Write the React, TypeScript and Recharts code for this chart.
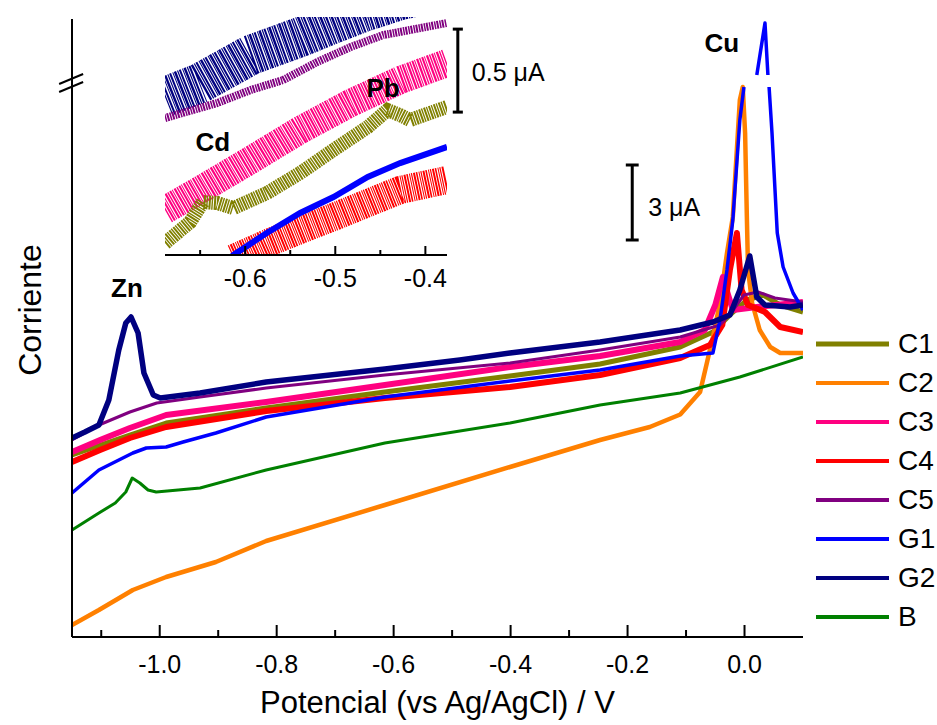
import { LineChart, Line, XAxis, YAxis, Legend, ReferenceLine, ReferenceDot } from 'recharts'

// main voltammograms: potential (V) and current (uA, arbitrary offset)
const c1X = [-1.15, -1.051, -0.989, -0.818, -0.615, -0.401, -0.247, -0.11, -0.054, -0.025, 0.004, 0.032, 0.061, 0.1]
const c1Y = [7.28, 8.08, 8.56, 9.16, 9.8, 10.44, 10.92, 11.6, 12.2, 12.88, 13.48, 13.68, 13.28, 13.0]

const c2X = [-1.15, -1.104, -1.046, -0.989, -0.904, -0.818, -0.615, -0.401, -0.247, -0.162, -0.11, -0.076, -0.064, -0.054, -0.042, -0.03, -0.02, -0.008, -0.003, 0.001, 0.004, 0.006, 0.013, 0.026, 0.044, 0.061, 0.1]
const c2Y = [0.48, 1.08, 1.88, 2.4, 3.0, 3.84, 5.28, 6.8, 7.88, 8.4, 8.9, 9.8, 11.0, 12.0, 13.36, 15.36, 16.8, 21.48, 22.0, 20.16, 16.8, 14.68, 13.36, 12.28, 11.6, 11.36, 11.36]

const c3X = [-1.15, -1.102, -1.051, -0.989, -0.818, -0.615, -0.401, -0.247, -0.11, -0.068, -0.05, -0.037, -0.028, -0.02, 0.021, 0.1]
const c3Y = [7.4, 7.88, 8.36, 8.88, 9.4, 10.08, 10.8, 11.24, 11.8, 12.28, 13.28, 14.4, 13.68, 13.08, 13.2, 13.4]

const c4X = [-1.15, -1.102, -1.051, -0.989, -0.818, -0.615, -0.401, -0.247, -0.11, -0.059, -0.038, -0.025, -0.013, -0.005, 0.006, 0.035, 0.061, 0.1]
const c4Y = [7.0, 7.48, 7.96, 8.4, 9.04, 9.56, 10.0, 10.48, 11.16, 11.68, 12.48, 14.68, 16.16, 13.88, 13.28, 13.0, 12.4, 12.2]

const c5X = [-1.15, -1.104, -1.051, -1.005, -0.931, -0.818, -0.615, -0.401, -0.247, -0.11, -0.042, -0.025, -0.001, 0.023, 0.052, 0.1]
const c5Y = [7.88, 8.48, 9.0, 9.36, 9.6, 9.96, 10.48, 10.96, 11.48, 12.0, 12.48, 12.9, 13.68, 13.8, 13.56, 13.4]

// null = axis break
const g1X = [-1.15, -1.104, -1.046, -1.023, -0.989, -0.96, -0.904, -0.818, -0.615, -0.401, -0.247, -0.11, -0.054, -0.042, -0.03, -0.02, -0.008, -0.001, 0.01, 0.021, 0.035, 0.04, 0.041, 0.042, 0.047, 0.056, 0.066, 0.083, 0.1]
const g1Y = [5.76, 6.68, 7.36, 7.56, 7.6, 7.8, 8.16, 8.8, 9.6, 10.24, 10.68, 11.24, 11.36, 12.68, 14.68, 16.68, 20.68, 22.0, null, 22.48, 24.56, 22.48, null, 22.0, 20.16, 16.16, 14.8, 13.76, 13.08]

const g2X = [-1.15, -1.128, -1.104, -1.087, -1.07, -1.058, -1.049, -1.037, -1.027, -1.011, -0.999, -0.931, -0.818, -0.615, -0.487, -0.401, -0.247, -0.11, -0.054, -0.025, -0.008, 0.009, 0.021, 0.035, 0.078, 0.1]
const g2Y = [7.96, 8.2, 8.48, 9.48, 11.48, 12.56, 12.8, 12.16, 10.56, 9.68, 9.56, 9.76, 10.2, 10.72, 11.08, 11.36, 11.8, 12.28, 12.6, 12.88, 13.88, 15.24, 13.6, 13.28, 13.2, 13.28]

const bX = [-1.15, -1.104, -1.076, -1.058, -1.047, -1.034, -1.02, -1.006, -0.931, -0.818, -0.615, -0.401, -0.247, -0.11, -0.008, 0.1]
const bY = [4.28, 4.96, 5.36, 5.8, 6.36, 6.16, 5.88, 5.8, 5.96, 6.68, 7.76, 8.56, 9.28, 9.76, 10.4, 11.2]

// inset (Cd / Pb region)
const iG2X = [-0.689, -0.65, -0.594, -0.539, -0.506, -0.469, -0.428, -0.376]
const iG2Y = [0.952, 1.036, 1.205, 1.313, 1.386, 1.464, 1.536, 1.596]
const iC5X = [-0.689, -0.631, -0.594, -0.558, -0.52, -0.483, -0.447, -0.376]
const iC5Y = [0.825, 0.916, 0.994, 1.054, 1.163, 1.253, 1.325, 1.398]
const iC3X = [-0.689, -0.65, -0.594, -0.539, -0.483, -0.428, -0.376]
const iC3Y = [0.271, 0.392, 0.572, 0.753, 0.916, 1.054, 1.157]
const iC1X = [-0.689, -0.661, -0.647, -0.631, -0.613, -0.576, -0.539, -0.502, -0.464, -0.442, -0.428, -0.417, -0.376]
const iC1Y = [0.072, 0.199, 0.319, 0.313, 0.283, 0.373, 0.494, 0.633, 0.771, 0.873, 0.843, 0.813, 0.892]
const iC4X = [-0.613, -0.576, -0.539, -0.502, -0.464, -0.428, -0.376]
const iC4Y = [-0.02, 0.07, 0.151, 0.229, 0.313, 0.392, 0.452]
const iG1X = [-0.622, -0.613, -0.576, -0.539, -0.502, -0.464, -0.428, -0.376]
const iG1Y = [-0.042, 0, 0.133, 0.253, 0.349, 0.47, 0.554, 0.651]

const mainTicks = [-1.1, -1.0, -0.9, -0.8, -0.7, -0.6, -0.5, -0.4, -0.3, -0.2, -0.1, 0.0]
const insetTicks = [-0.65, -0.6, -0.55, -0.5, -0.45, -0.4]
const legendOrder = ['C1', 'C2', 'C3', 'C4', 'C5', 'G1', 'G2', 'B']

const FONT = '"Liberation Sans", Arial, sans-serif'

const pts = (xs: number[], ys: (number | null)[]) => xs.map((x, i) => ({ x, y: ys[i] }))

const series = [
  { name: 'C1', color: '#808000', w: 5, data: pts(c1X, c1Y) },
  { name: 'C2', color: '#FF8000', w: 4.5, data: pts(c2X, c2Y) },
  { name: 'C3', color: '#FF0080', w: 6, data: pts(c3X, c3Y) },
  { name: 'C4', color: '#FF0000', w: 6, data: pts(c4X, c4Y) },
  { name: 'C5', color: '#800080', w: 3, data: pts(c5X, c5Y) },
  { name: 'G1', color: '#0000FF', w: 3.5, data: pts(g1X, g1Y) },
  { name: 'G2', color: '#000080', w: 5.5, data: pts(g2X, g2Y) },
  { name: 'B', color: '#008000', w: 3, data: pts(bX, bY) },
]

// noisy traces: irregular dash pattern imitates the noise spikes
const insetSeries = [
  { key: 'G2', color: '#000080', w: 40, dash: '1.2 0.8 2 1.4 1 0.6 2.4 1', data: pts(iG2X, iG2Y) },
  { key: 'C5', color: '#800080', w: 8, dash: '1.5 0.8 2 1', data: pts(iC5X, iC5Y) },
  { key: 'C3', color: '#FF0080', w: 28, dash: '1.4 1 2 0.8 1 1.2 2.2 0.9', data: pts(iC3X, iC3Y) },
  { key: 'C1', color: '#808000', w: 14, dash: '2 0.8 1.4 1', data: pts(iC1X, iC1Y) },
  { key: 'C4', color: '#FF0000', w: 28, dash: '1.2 1 2 0.8 1.6 1.2 1 0.9', data: pts(iC4X, iC4Y) },
  { key: 'G1', color: '#0000FF', w: 6, dash: undefined, data: pts(iG1X, iG1Y) },
]

function makeTick(isMajor: (v: number) => boolean, majorLen: number, minorLen: number, labelDy: number) {
  return (props: any) => {
    const { x, y, payload } = props
    const major = isMajor(payload.value)
    return (
      <g>
        <line x1={x} x2={x} y1={y} y2={y - (major ? majorLen : minorLen)} stroke="#000" strokeWidth={2} />
        {major && (
          <text x={x} y={y + labelDy} textAnchor="middle" fontSize={25} fill="#000" fontFamily={FONT}>
            {payload.value.toFixed(1)}
          </text>
        )}
      </g>
    )
  }
}

const mainTick = makeTick((v) => Math.abs(Math.round(v * 10)) % 2 === 0, 12, 7, 36)
const insetTick = makeTick((v) => Math.abs(v * 10 - Math.round(v * 10)) < 0.01, 9, 5, 32)

function LegendList(props: any) {
  const { payload = [] } = props
  const items = [...payload].sort((a: any, b: any) => legendOrder.indexOf(a.value) - legendOrder.indexOf(b.value))
  return (
    <div style={{ fontFamily: FONT }}>
      {items.map((p: any) => (
        <div key={p.value} style={{ display: 'flex', alignItems: 'center', height: 39 }}>
          <svg width={82} height={8}>
            <line x1={0} x2={73} y1={4} y2={4} stroke={p.color} strokeWidth={p.value === 'C1' ? 5 : 4} />
          </svg>
          <span style={{ fontSize: 28, color: '#000', lineHeight: '39px' }}>{p.value}</span>
        </div>
      ))}
    </div>
  )
}

const noteStyle = { fill: '#000', fontSize: 26, fontWeight: 'bold' as const, fontFamily: FONT }

export default function App() {
  return (
    <div style={{ position: 'absolute', left: 0, top: 0, width: 937, height: 725, background: '#fff', fontFamily: FONT }}>
      <LineChart width={937} height={725} margin={{ top: 19, right: 134, bottom: 0, left: 0 }}>
        <XAxis
          type="number"
          dataKey="x"
          domain={[-1.15, 0.1]}
          ticks={mainTicks}
          interval={0}
          tick={mainTick}
          tickLine={false}
          tickSize={0}
          tickMargin={0}
          height={88}
          allowDataOverflow
          axisLine={{ stroke: '#000', strokeWidth: 2 }}
          label={{ value: 'Potencial (vs Ag/AgCl) / V', position: 'insideBottom', offset: 12, fontSize: 31, fill: '#000' }}
        />
        <YAxis
          type="number"
          domain={[0, 24.72]}
          width={72}
          tick={false}
          tickLine={false}
          allowDataOverflow
          axisLine={{ stroke: '#000', strokeWidth: 2 }}
          label={{
            content: ({ viewBox }: any) => {
              const cx = viewBox.x + 33
              const cy = viewBox.y + viewBox.height / 2 - 18
              return (
                <text x={cx} y={cy} transform={`rotate(-90 ${cx} ${cy})`} textAnchor="middle" dominantBaseline="middle" fontSize={32} fill="#000">
                  Corriente
                </text>
              )
            },
          }}
        />
        <Legend
          layout="vertical"
          align="center"
          verticalAlign="middle"
          wrapperStyle={{ left: 816, top: 324, width: 121 }}
          content={LegendList}
        />
        {series.map((s) => (
          <Line
            key={s.name}
            name={s.name}
            data={s.data}
            dataKey="y"
            type="linear"
            stroke={s.color}
            strokeWidth={s.w}
            strokeLinejoin="round"
            dot={false}
            activeDot={false}
            connectNulls={false}
            isAnimationActive={false}
          />
        ))}
        {/* axis break marks */}
        <ReferenceLine segment={[{ x: -1.172, y: 21.8 }, { x: -1.131, y: 22.2 }]} stroke="#000" strokeWidth={2} ifOverflow="visible" />
        <ReferenceLine segment={[{ x: -1.172, y: 22.12 }, { x: -1.131, y: 22.52 }]} stroke="#000" strokeWidth={2} ifOverflow="visible" />
        {/* 3 uA scale bar */}
        <ReferenceLine segment={[{ x: -0.192, y: 15.88 }, { x: -0.192, y: 18.88 }]} stroke="#000" strokeWidth={3} />
        <ReferenceLine segment={[{ x: -0.203, y: 15.88 }, { x: -0.181, y: 15.88 }]} stroke="#000" strokeWidth={3} />
        <ReferenceLine segment={[{ x: -0.203, y: 18.88 }, { x: -0.181, y: 18.88 }]} stroke="#000" strokeWidth={3} />
        <ReferenceDot x={-0.192} y={17.2} r={0} fill="none" stroke="none" ifOverflow="visible"
          label={{ value: '3 μA', position: 'right', offset: 16, fill: '#000', fontSize: 25, fontFamily: FONT }} />
        <ReferenceDot x={-1.056} y={13.96} r={0} fill="none" stroke="none" ifOverflow="visible"
          label={{ value: 'Zn', position: 'center', ...noteStyle }} />
        <ReferenceDot x={-0.039} y={23.76} r={0} fill="none" stroke="none" ifOverflow="visible"
          label={{ value: 'Cu', position: 'center', ...noteStyle }} />
      </LineChart>

      <div style={{ position: 'absolute', left: 150, top: 0 }}>
        <LineChart width={430} height={300} margin={{ top: 17, right: 133, bottom: 0, left: 15 }}>
          <XAxis
            type="number"
            dataKey="x"
            domain={[-0.689, -0.376]}
            ticks={insetTicks}
            interval={0}
            tick={insetTick}
            tickLine={false}
            tickSize={0}
            tickMargin={0}
            height={45}
            allowDataOverflow
            axisLine={{ stroke: '#000', strokeWidth: 2 }}
          />
          <YAxis type="number" domain={[0, 1.434]} hide allowDataOverflow />
          {insetSeries.map((s) => (
            <Line
              key={s.key}
              data={s.data}
              dataKey="y"
              type="linear"
              stroke={s.color}
              strokeWidth={s.w}
              strokeDasharray={s.dash}
              dot={false}
              activeDot={false}
              isAnimationActive={false}
            />
          ))}
          {/* 0.5 uA scale bar */}
          <ReferenceLine segment={[{ x: -0.364, y: 0.861 }, { x: -0.364, y: 1.361 }]} stroke="#000" strokeWidth={3} ifOverflow="visible" />
          <ReferenceLine segment={[{ x: -0.3696, y: 0.861 }, { x: -0.3584, y: 0.861 }]} stroke="#000" strokeWidth={3} ifOverflow="visible" />
          <ReferenceLine segment={[{ x: -0.3696, y: 1.361 }, { x: -0.3584, y: 1.361 }]} stroke="#000" strokeWidth={3} ifOverflow="visible" />
          <ReferenceDot x={-0.364} y={1.1} r={0} fill="none" stroke="none" ifOverflow="visible"
            label={{ value: '0.5 μA', position: 'right', offset: 14, fill: '#000', fontSize: 25, fontFamily: FONT }} />
          <ReferenceDot x={-0.636} y={0.681} r={0} fill="none" stroke="none" ifOverflow="visible"
            label={{ value: 'Cd', position: 'center', ...noteStyle }} />
          <ReferenceDot x={-0.447} y={1.006} r={0} fill="none" stroke="none" ifOverflow="visible"
            label={{ value: 'Pb', position: 'center', ...noteStyle }} />
        </LineChart>
      </div>
    </div>
  )
}
